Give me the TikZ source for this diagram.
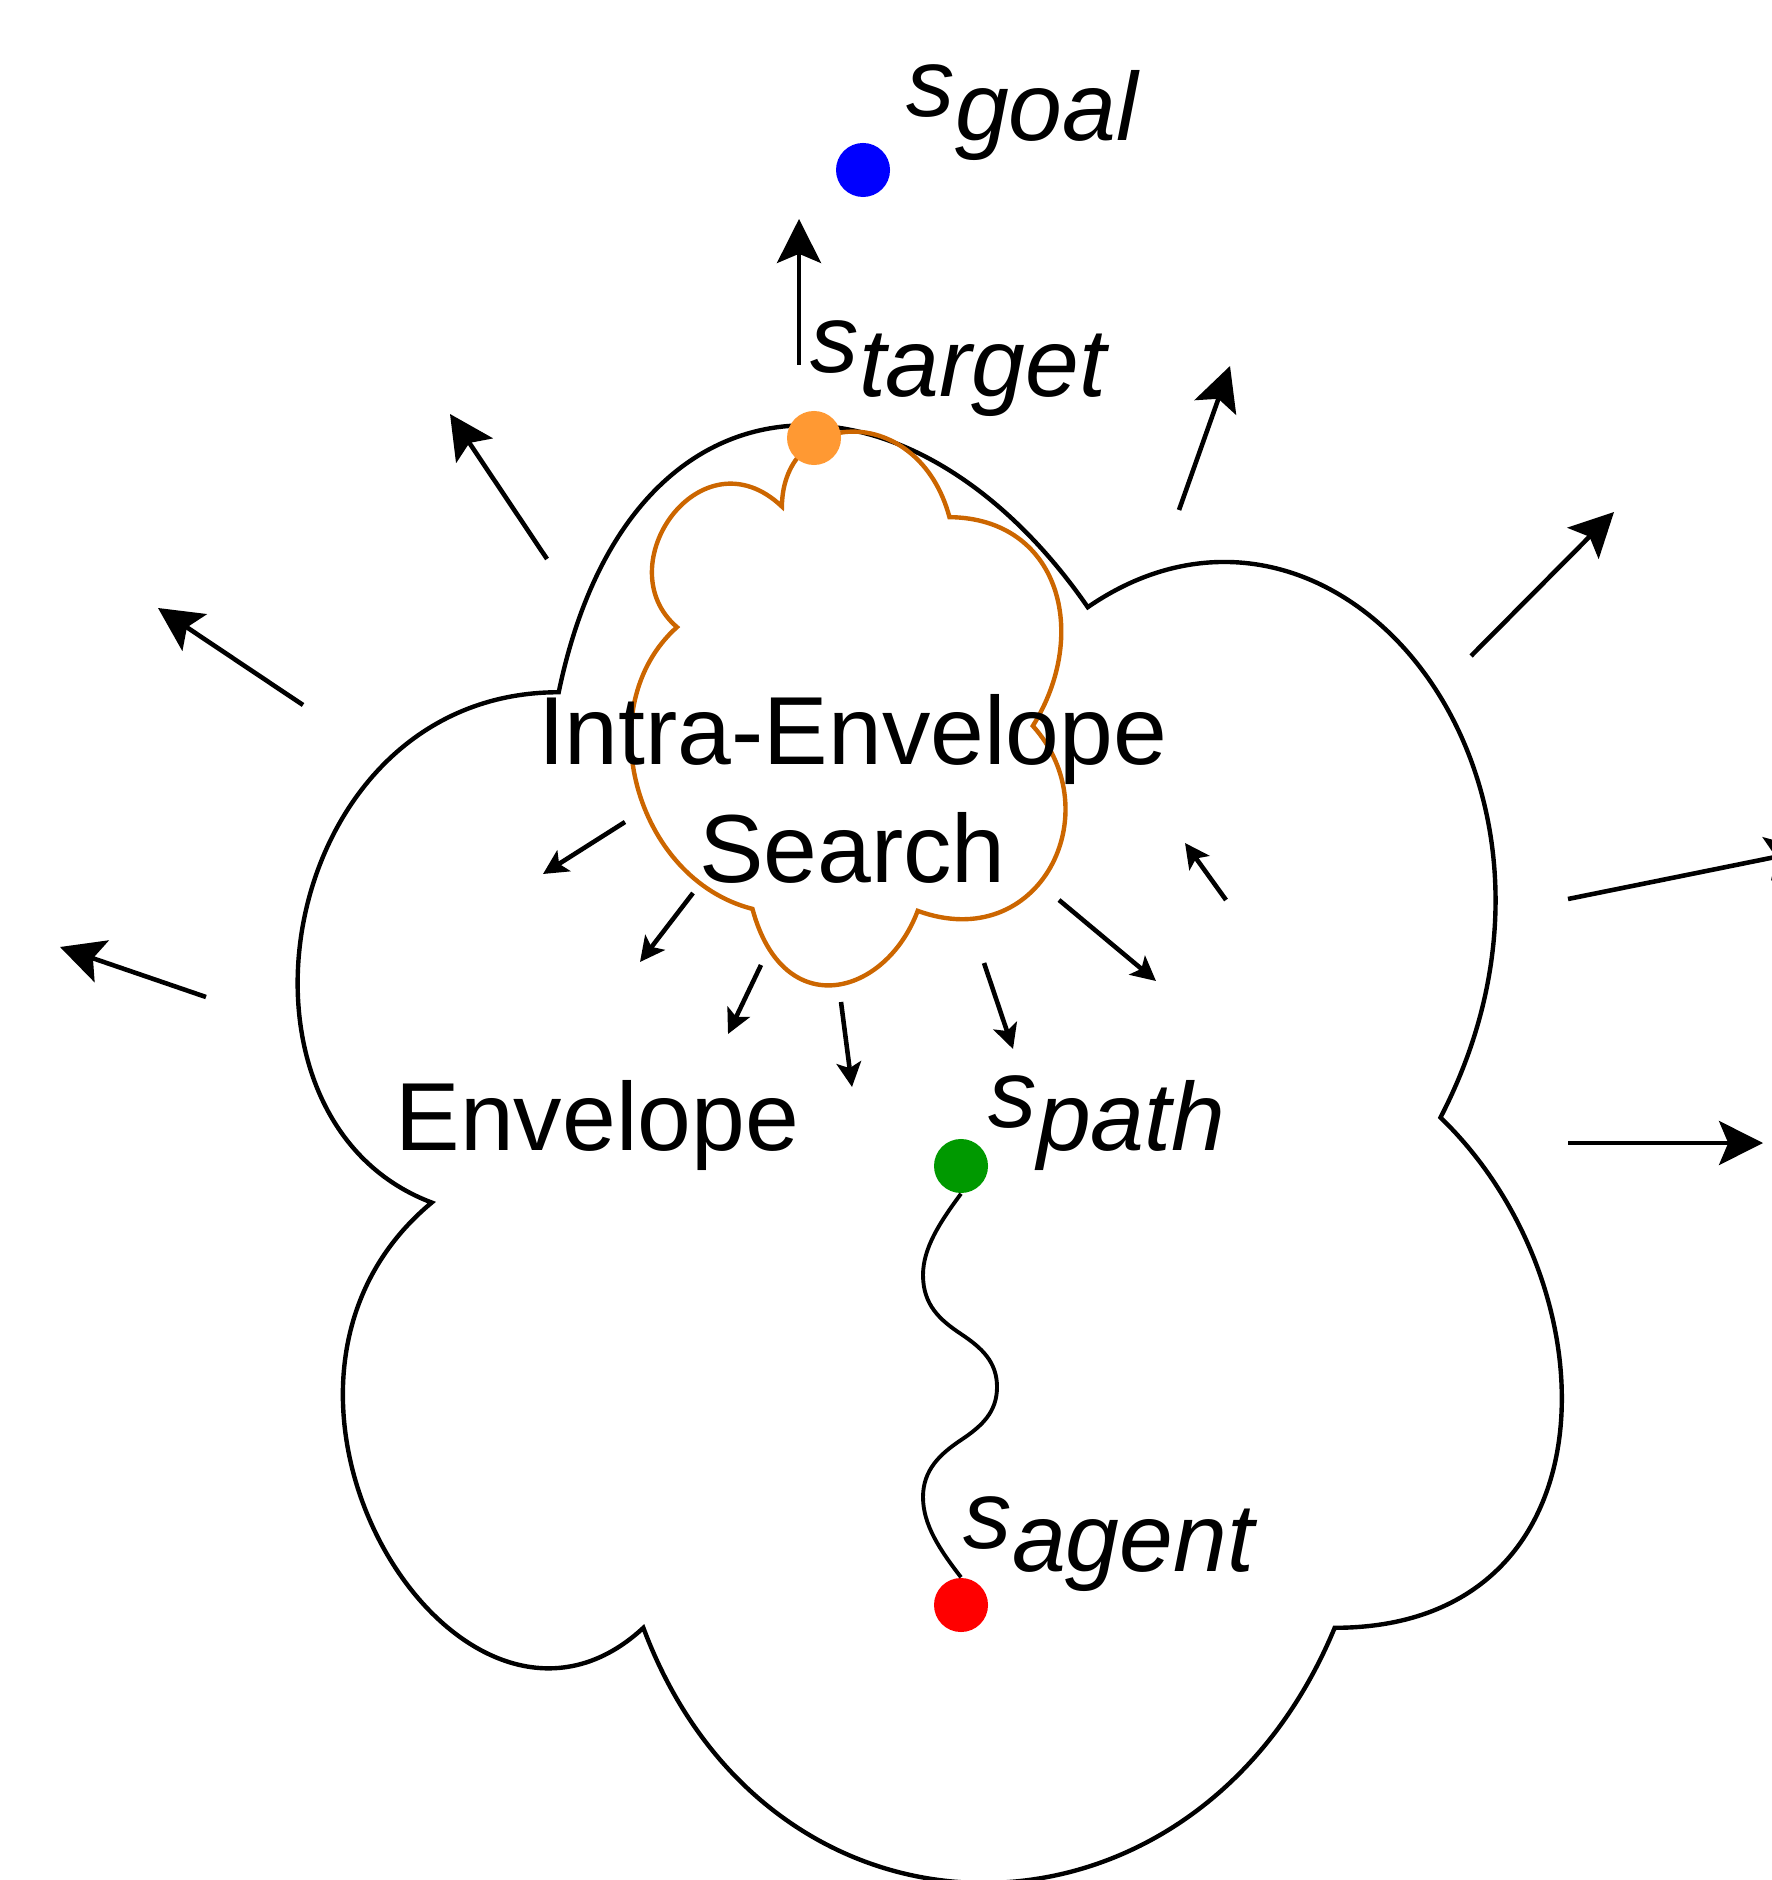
\documentclass[tikz,border=0pt]{standalone}
\usepackage{fontspec}
\setmainfont{Liberation Sans}
\usepackage{tikz}
\usetikzlibrary{arrows.meta}
\definecolor{goalblue}{HTML}{0000FF}
\definecolor{targetorange}{HTML}{FF9933}
\definecolor{searchorange}{HTML}{CC6600}
\definecolor{pathgreen}{HTML}{009900}
\definecolor{agentred}{HTML}{FF0000}
\newcommand{\cloudoutline}{(0.25,0.25) .. controls (0.05,0.25) and (0,0.5) .. (0.16,0.55)
  .. controls (0,0.66) and (0.18,0.9) .. (0.31,0.8)
  .. controls (0.4,1) and (0.7,1) .. (0.8,0.8)
  .. controls (1,0.8) and (1,0.6) .. (0.875,0.5)
  .. controls (1,0.3) and (0.8,0.1) .. (0.625,0.2)
  .. controls (0.5,0.05) and (0.3,0.05) .. (0.25,0.25) -- cycle}
\newcommand{\slabel}[1]{s\raisebox{-0.24em}{#1}}
\tikzset{dot/.style = {shape=circle,draw=none,inner sep=0pt,minimum size=0.54cm}}
\tikzset{bigtext/.style = {inner sep=0pt,align=center,font=\fontsize{27.5pt}{33.6pt}\selectfont}}
\tikzset{statetext/.style = {anchor=base west,inner sep=0pt,font=\fontsize{27.5pt}{33.6pt}\selectfont\itshape}}
\tikzset{envelope/.style = {line width=1.25pt}}
\tikzset{search/.style = {line width=1.25pt,draw=searchorange}}
\tikzset{bigedge/.style = {-{Stealth[length=12.5pt,width=12.5pt,inset=2.6pt]},line width=1.3pt}}
\tikzset{smalledge/.style = {-{Stealth[length=7pt,width=7pt,inset=1.6pt]},line width=1.3pt}}

\begin{document}
\begin{tikzpicture}[x=0.01cm,y=-0.01cm]
            \useasboundingbox (0,0) rectangle (1771,1880);

            % Clouds
            \begin{scope}[shift={(206,267)},x=14.10cm,y=-17.00cm]
                \draw[envelope] \cloudoutline;
            \end{scope}
            \begin{scope}[shift={(860,695)},rotate=-75,shift={(-297.5,-265)},x=5.95cm,y=-5.30cm]
                \draw[search] \cloudoutline;
            \end{scope}

            % Texts
            \node[bigtext,anchor=base] (intra) at (852.5,883) {Intra-Envelope\\Search};
            \node[bigtext,anchor=base west] (envelope) at (395,1150) {Envelope};

            % States
            \node[dot,fill=goalblue] (sgoal) at (863,170) {};
            \node[dot,fill=targetorange] (starget) at (814,438) {};
            \node[dot,fill=pathgreen] (spath) at (961,1166) {};
            \node[dot,fill=agentred] (sagent) at (961,1605) {};

            \node[statetext] (goallabel) at (906,117) {\slabel{goal}};
            \node[statetext] (targetlabel) at (810,373) {\slabel{target}};
            \node[statetext] (pathlabel) at (988,1127) {\slabel{path}};
            \node[statetext] (agentlabel) at (963,1548) {\slabel{agent}};

            % Path
            \draw[line width=1.1pt] (spath.south) .. controls (940,1222) and (923,1248) .. (923,1275)
                .. controls (923,1305) and (940,1320) .. (961,1334)
                .. controls (982,1348) and (997,1362) .. (997,1387)
                .. controls (997,1412) and (982,1426) .. (961,1440)
                .. controls (940,1454) and (923,1470) .. (923,1497)
                .. controls (923,1525) and (940,1550) .. (sagent.north);

            % Outer arrows
            \coordinate (outfrom1) at (799,365);  \coordinate (outto1) at (799,219);
            \coordinate (outfrom2) at (547,559);  \coordinate (outto2) at (450,414);
            \coordinate (outfrom3) at (303,705);  \coordinate (outto3) at (158,608);
            \coordinate (outfrom4) at (206,997);  \coordinate (outto4) at (60,947);
            \coordinate (outfrom5) at (1179,510); \coordinate (outto5) at (1230,366);
            \coordinate (outfrom6) at (1471,656); \coordinate (outto6) at (1614,512);
            \coordinate (outfrom7) at (1568,899); \coordinate (outto7) at (1810,850);
            \coordinate (outfrom8) at (1568,1143); \coordinate (outto8) at (1763,1143);
            \foreach \i in {1,...,8}
                \draw[bigedge] (outfrom\i) -- (outto\i);

            % Inner arrows
            \coordinate (infrom1) at (625,822);  \coordinate (into1) at (543,874);
            \coordinate (infrom2) at (693,893);  \coordinate (into2) at (640,962);
            \coordinate (infrom3) at (761,965);  \coordinate (into3) at (728,1034);
            \coordinate (infrom4) at (841,1002); \coordinate (into4) at (852,1087);
            \coordinate (infrom5) at (984,963);  \coordinate (into5) at (1013,1049);
            \coordinate (infrom6) at (1059,900); \coordinate (into6) at (1156,981);
            \coordinate (infrom7) at (1226,900); \coordinate (into7) at (1185,843);
            \foreach \i in {1,...,7}
                \draw[smalledge] (infrom\i) -- (into\i);

        \end{tikzpicture}
\end{document}
